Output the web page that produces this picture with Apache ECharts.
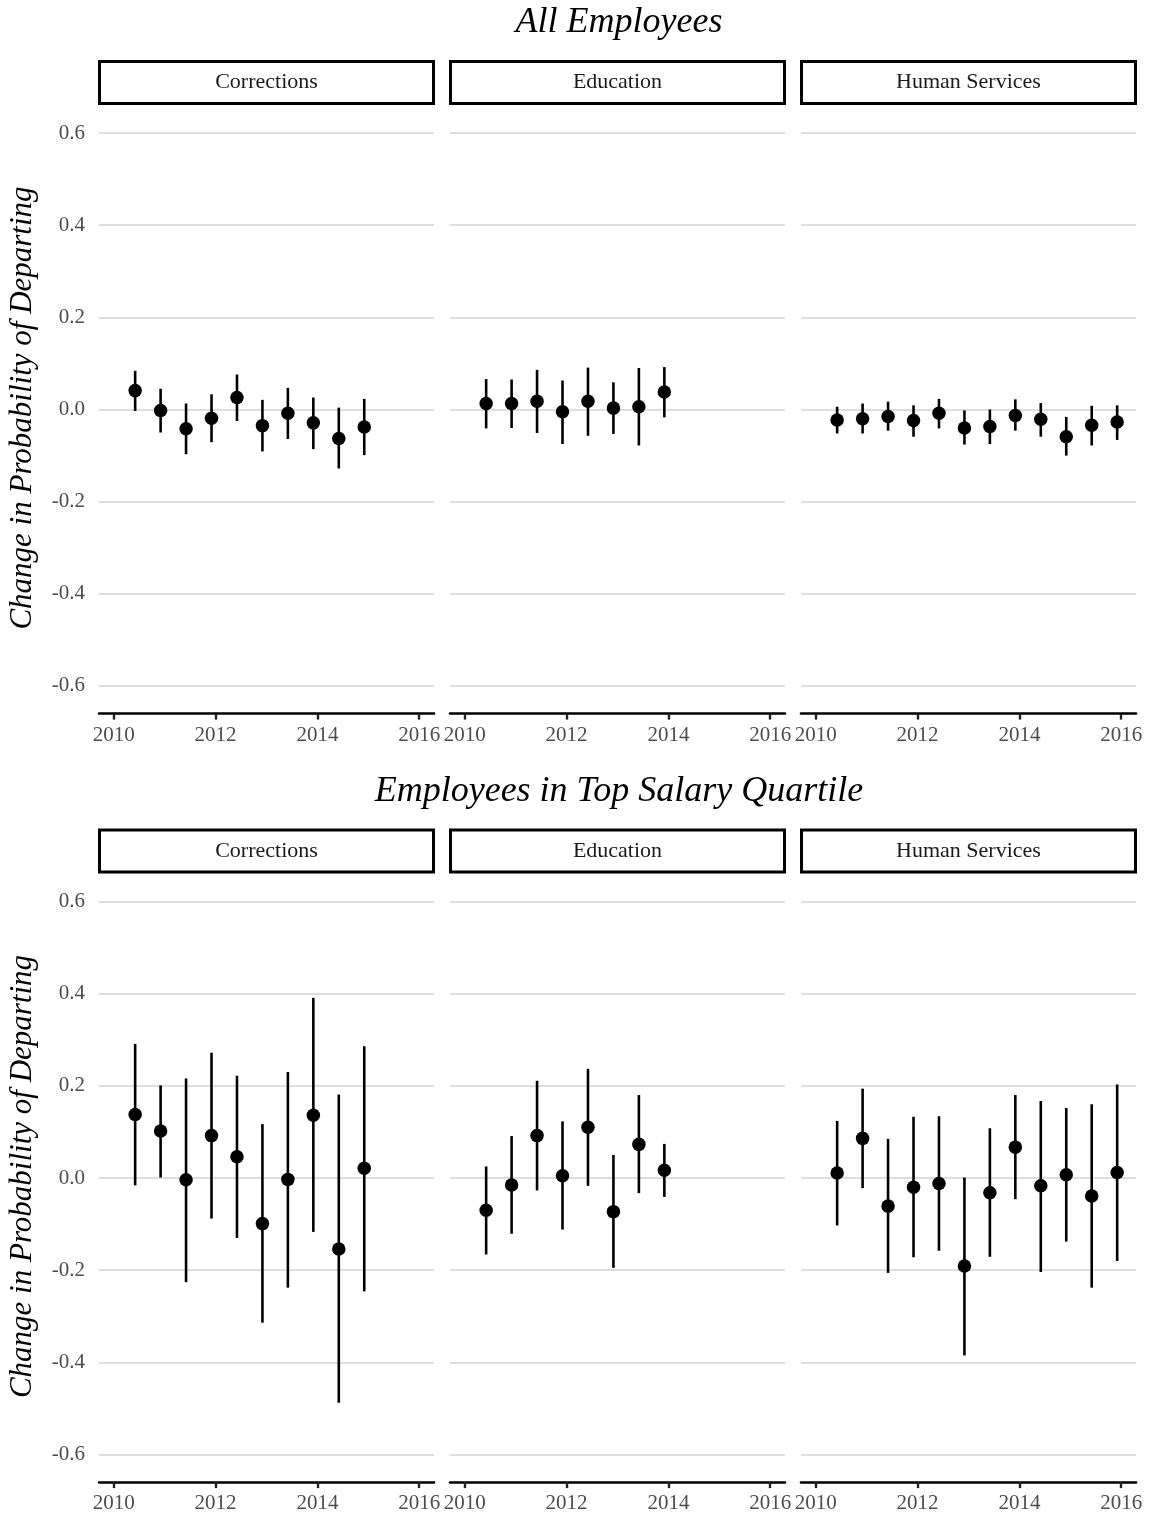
<!DOCTYPE html>
<html>
<head>
<meta charset="utf-8">
<script src="https://cdn.jsdelivr.net/npm/echarts@6/dist/echarts.min.js"></script>
<style>
  html, body { margin: 0; padding: 0; background: #fff; }
  #chart { width: 1151px; height: 1518px; }
</style>
</head>
<body>
<div id="chart"></div>
<script>
// ---- Data ----
const xs = [2010.42, 2010.92, 2011.42, 2011.92, 2012.42, 2012.92, 2013.42, 2013.92, 2014.42, 2014.92, 2015.42, 2015.92];
const facets = ['Corrections', 'Education', 'Human Services'];
const panelTitles = ['All Employees', 'Employees in Top Salary Quartile'];
const yAxisTitle = 'Change in Probability of Departing';
const yTicks = [-0.6, -0.4, -0.2, 0, 0.2, 0.4, 0.6];
const xTicks = [2010, 2012, 2014, 2016];

// All employees
const corrAllEst = [0.041, -0.002, -0.042, -0.019, 0.026, -0.035, -0.008, -0.029, -0.063, -0.038];
const corrAllLo  = [-0.003, -0.050, -0.097, -0.071, -0.025, -0.091, -0.064, -0.086, -0.128, -0.099];
const corrAllHi  = [0.084, 0.045, 0.013, 0.033, 0.076, 0.021, 0.047, 0.026, 0.004, 0.023];

const eduAllEst = [0.013, 0.013, 0.018, -0.005, 0.018, 0.003, 0.006, 0.038];
const eduAllLo  = [-0.041, -0.040, -0.051, -0.075, -0.057, -0.053, -0.078, -0.017];
const eduAllHi  = [0.066, 0.065, 0.086, 0.063, 0.091, 0.059, 0.090, 0.092];

const hsAllEst = [-0.023, -0.020, -0.015, -0.024, -0.008, -0.040, -0.037, -0.013, -0.021, -0.059, -0.034, -0.027];
const hsAllLo  = [-0.052, -0.052, -0.046, -0.059, -0.041, -0.076, -0.075, -0.046, -0.059, -0.100, -0.078, -0.066];
const hsAllHi  = [0.006, 0.013, 0.017, 0.009, 0.023, -0.002, 0.000, 0.022, 0.014, -0.016, 0.008, 0.009];

// Employees in top salary quartile
const corrTopEst = [0.138, 0.102, -0.004, 0.092, 0.046, -0.099, -0.003, 0.136, -0.154, 0.021];
const corrTopLo  = [-0.016, 0.001, -0.226, -0.088, -0.130, -0.314, -0.238, -0.117, -0.488, -0.246];
const corrTopHi  = [0.291, 0.201, 0.216, 0.272, 0.222, 0.117, 0.230, 0.391, 0.181, 0.286];

const eduTopEst = [-0.070, -0.015, 0.092, 0.005, 0.110, -0.073, 0.073, 0.017];
const eduTopLo  = [-0.166, -0.121, -0.027, -0.112, -0.017, -0.195, -0.033, -0.041];
const eduTopHi  = [0.025, 0.091, 0.211, 0.123, 0.237, 0.050, 0.180, 0.074];

const hsTopEst = [0.011, 0.086, -0.061, -0.020, -0.012, -0.191, -0.032, 0.067, -0.017, 0.007, -0.039, 0.012];
const hsTopLo  = [-0.103, -0.022, -0.206, -0.172, -0.158, -0.385, -0.171, -0.046, -0.204, -0.138, -0.238, -0.180];
const hsTopHi  = [0.124, 0.194, 0.085, 0.133, 0.134, 0.001, 0.108, 0.180, 0.167, 0.152, 0.160, 0.203];

// ---- Build ----
const panels = [
  [[corrAllEst, corrAllLo, corrAllHi], [eduAllEst, eduAllLo, eduAllHi], [hsAllEst, hsAllLo, hsAllHi]],
  [[corrTopEst, corrTopLo, corrTopHi], [eduTopEst, eduTopLo, eduTopHi], [hsTopEst, hsTopLo, hsTopHi]]
];

const FONT = '"Liberation Serif", "DejaVu Serif", serif';
const colLeft = [99, 450, 801];
const colW = 335;
const rowTop = [105.4, 873.9];
const rowH = 608.2;
const rowShift = 768.5;

const grids = [], xAxes = [], yAxes = [], series = [], graphics = [];

function renderBar(params, api) {
  const x = api.value(0);
  const p1 = api.coord([x, api.value(1)]);
  const p2 = api.coord([x, api.value(2)]);
  return {
    type: 'line',
    shape: { x1: p1[0], y1: p1[1], x2: p2[0], y2: p2[1] },
    style: { stroke: '#000', lineWidth: 2.6 }
  };
}

let idx = 0;
for (let r = 0; r < 2; r++) {
  for (let c = 0; c < 3; c++) {
    grids.push({ left: colLeft[c], top: rowTop[r], width: colW, height: rowH, containLabel: false });
    xAxes.push({
      type: 'value', gridIndex: idx, min: 2009.71, max: 2016.29,
      axisLine: { show: true, onZero: false, lineStyle: { color: '#000', width: 2.6 } },
      axisTick: { show: true, customValues: xTicks, length: 6, lineStyle: { color: '#222', width: 2.4 } },
      axisLabel: { show: true, customValues: xTicks, color: '#4d4d4d', fontFamily: FONT, fontSize: 21, margin: 11,
                   formatter: v => String(v) },
      splitLine: { show: false }
    });
    yAxes.push({
      type: 'value', gridIndex: idx, min: -0.66, max: 0.66,
      axisLine: { show: false },
      axisTick: { show: false, customValues: yTicks },
      axisLabel: { show: c === 0, customValues: yTicks, color: '#4d4d4d', fontFamily: FONT, fontSize: 21, margin: 14,
                   formatter: v => v.toFixed(1) },
      splitLine: { show: true, lineStyle: { color: '#dedede', width: 2.2 } }
    });
    const [est, lo, hi] = panels[r][c];
    series.push({
      type: 'custom', xAxisIndex: idx, yAxisIndex: idx,
      renderItem: renderBar,
      encode: { x: 0, y: [1, 2] },
      data: lo.map((v, i) => [xs[i], lo[i], hi[i]]),
      z: 2
    });
    series.push({
      type: 'scatter', xAxisIndex: idx, yAxisIndex: idx,
      symbol: 'circle', symbolSize: 13.5,
      itemStyle: { color: '#000', opacity: 1 },
      emphasis: { disabled: true },
      data: est.map((v, i) => [xs[i], v]),
      z: 3
    });
    // strip
    graphics.push({
      type: 'rect', shape: { x: colLeft[c] + 0.5, y: 61.5 + r * rowShift, width: colW - 1, height: 42 },
      style: { fill: '#fff', stroke: '#000', lineWidth: 3 }
    });
    graphics.push({
      type: 'text', x: colLeft[c] + colW / 2, y: 82.5 + r * rowShift,
      style: { text: facets[c], align: 'center', verticalAlign: 'middle', fontFamily: FONT, fontSize: 22, fill: '#1a1a1a' }
    });
    idx++;
  }
  graphics.push({
    type: 'text', x: 619, y: 23 + r * rowShift,
    style: { text: panelTitles[r], align: 'center', verticalAlign: 'middle', fontFamily: FONT, fontSize: 36, fontStyle: 'italic', fill: '#000' }
  });
  graphics.push({
    type: 'text', x: 23, y: 408 + r * rowShift, rotation: Math.PI / 2,
    style: { text: yAxisTitle, align: 'center', verticalAlign: 'middle', fontFamily: FONT, fontSize: 31, fontStyle: 'italic', fill: '#000' }
  });
}

const chart = echarts.init(document.getElementById('chart'), null, { renderer: 'canvas' });
chart.setOption({
  animation: false,
  backgroundColor: '#fff',
  grid: grids,
  xAxis: xAxes,
  yAxis: yAxes,
  series: series,
  graphic: graphics
});
</script>
</body>
</html>
